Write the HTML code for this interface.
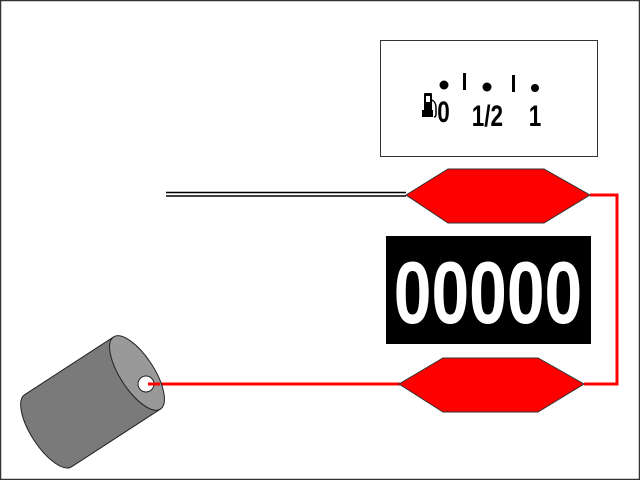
<!DOCTYPE html>
<html><head><style>body{margin:0;background:#fff}svg{display:block}</style></head><body>
<svg width="640" height="480" viewBox="0 0 640 480" xmlns="http://www.w3.org/2000/svg">
<rect x="0.5" y="0.5" width="639" height="479" fill="#fff" stroke="#333" stroke-width="1.5"/>
<rect x="380.5" y="40.5" width="217" height="116" fill="#fff" stroke="#333" stroke-width="1"/>
<circle cx="444" cy="85" r="4.5" fill="#000"/>
<rect x="463" y="73" width="3" height="17" fill="#000"/>
<circle cx="487" cy="87" r="4.5" fill="#000"/>
<rect x="512" y="75" width="3" height="17" fill="#000"/>
<circle cx="535" cy="88" r="4" fill="#000"/>
<g fill="#000"><rect x="424" y="93" width="8" height="23" rx="1"/><rect x="422" y="110" width="11" height="7"/></g>
<path d="M432 100 q4 2 4 8 v6 q0 3 -2 3" fill="none" stroke="#000" stroke-width="1.5"/>
<rect x="426" y="96" width="4" height="6" fill="#fff"/>
<g font-family="Liberation Sans, sans-serif" font-size="30" font-weight="bold" fill="#000" transform="scale(0.75,1)">
<text x="583" y="122">0</text>
<text x="629" y="126">1/2</text>
<text x="705" y="126">1</text>
</g>
<line x1="166" y1="192.5" x2="406" y2="192.5" stroke="#000" stroke-width="1.5"/>
<line x1="166" y1="196" x2="406" y2="196" stroke="#000" stroke-width="1.5"/>
<polyline points="590,195 617,195 617,384 584,384" fill="none" stroke="red" stroke-width="3"/>
<line x1="148" y1="384" x2="400" y2="384" stroke="red" stroke-width="3"/>
<polygon points="406,195 448,169 544,169 590,195 544,223 448,223" fill="red" stroke="#333" stroke-width="1"/>
<polygon points="399,384 443,358 538,358 584,384 538,412 443,412" fill="red" stroke="#333" stroke-width="1"/>
<rect x="386" y="236" width="205" height="108" fill="#000"/>
<text x="488" y="323" text-anchor="middle" font-family="Liberation Sans, sans-serif" font-weight="bold" font-size="88" fill="#fff" transform="translate(488 0) scale(0.77 1) translate(-488 0)">00000</text>
<g transform="translate(137,373) rotate(-33)">
<path d="M-106,-43 L0,-43 L0,43 L-106,43 A17,43 0 0 1 -106,-43 Z" fill="#7a7a7a" stroke="#222" stroke-width="1"/>
<ellipse cx="0" cy="0" rx="17" ry="43" fill="#999" stroke="#222" stroke-width="1"/>
</g>
<circle cx="146" cy="384" r="8" fill="#fff" stroke="#222" stroke-width="1"/>
<line x1="148" y1="384" x2="160" y2="384" stroke="red" stroke-width="3"/>
</svg>
</body></html>
